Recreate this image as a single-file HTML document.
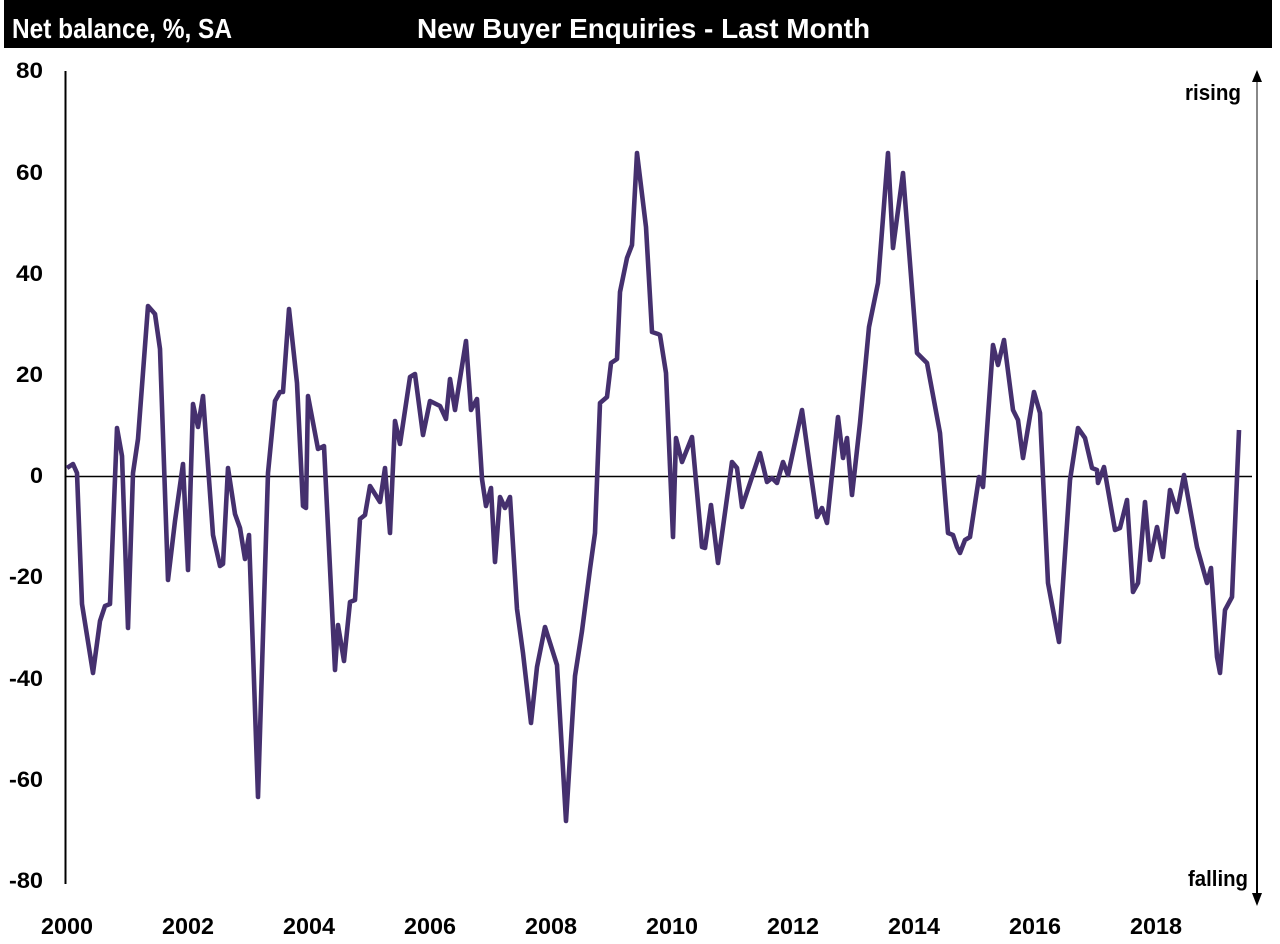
<!DOCTYPE html>
<html><head><meta charset="utf-8"><style>
html,body{margin:0;padding:0;background:#fff;}
svg{display:block;}
text{font-family:"Liberation Sans Narrow","Liberation Sans",sans-serif;font-weight:bold;}
</style></head><body>
<svg width="1280" height="944" viewBox="0 0 1280 944" xmlns="http://www.w3.org/2000/svg">
<rect x="4" y="0" width="1268" height="48" fill="#000"/>
<text x="12" y="38" font-size="28" fill="#fff" textLength="220" lengthAdjust="spacingAndGlyphs">Net balance, %, SA</text>
<text x="417" y="38" font-size="28" fill="#fff" textLength="453" lengthAdjust="spacingAndGlyphs">New Buyer Enquiries - Last Month</text>
<line x1="65.5" y1="71" x2="65.5" y2="884" stroke="#000" stroke-width="2"/>
<line x1="65" y1="476.5" x2="1252" y2="476.5" stroke="#000" stroke-width="1.5"/>
<g font-size="22" fill="#000" text-anchor="end">
<text x="43" y="78" textLength="27" lengthAdjust="spacingAndGlyphs">80</text>
<text x="43" y="180" textLength="27" lengthAdjust="spacingAndGlyphs">60</text>
<text x="43" y="281" textLength="27" lengthAdjust="spacingAndGlyphs">40</text>
<text x="43" y="382" textLength="27" lengthAdjust="spacingAndGlyphs">20</text>
<text x="43" y="483" textLength="13" lengthAdjust="spacingAndGlyphs">0</text>
<text x="43" y="584" textLength="34" lengthAdjust="spacingAndGlyphs">-20</text>
<text x="43" y="686" textLength="34" lengthAdjust="spacingAndGlyphs">-40</text>
<text x="43" y="787" textLength="34" lengthAdjust="spacingAndGlyphs">-60</text>
<text x="43" y="888" textLength="34" lengthAdjust="spacingAndGlyphs">-80</text>
</g>
<g font-size="23" fill="#000" text-anchor="middle">
<text x="67" y="934" textLength="52" lengthAdjust="spacingAndGlyphs">2000</text>
<text x="188" y="934" textLength="52" lengthAdjust="spacingAndGlyphs">2002</text>
<text x="309" y="934" textLength="52" lengthAdjust="spacingAndGlyphs">2004</text>
<text x="430" y="934" textLength="52" lengthAdjust="spacingAndGlyphs">2006</text>
<text x="551" y="934" textLength="52" lengthAdjust="spacingAndGlyphs">2008</text>
<text x="672" y="934" textLength="52" lengthAdjust="spacingAndGlyphs">2010</text>
<text x="793" y="934" textLength="52" lengthAdjust="spacingAndGlyphs">2012</text>
<text x="914" y="934" textLength="52" lengthAdjust="spacingAndGlyphs">2014</text>
<text x="1035" y="934" textLength="52" lengthAdjust="spacingAndGlyphs">2016</text>
<text x="1156" y="934" textLength="52" lengthAdjust="spacingAndGlyphs">2018</text>
</g>
<line x1="1257" y1="80" x2="1257" y2="280" stroke="#888" stroke-width="2"/>
<line x1="1257" y1="280" x2="1257" y2="897" stroke="#000" stroke-width="2"/>
<polygon points="1252,82 1262,82 1257,70" fill="#000"/>
<polygon points="1252,893 1262,893 1257,906" fill="#000"/>
<text x="1185" y="100" font-size="22" fill="#000" textLength="56" lengthAdjust="spacingAndGlyphs">rising</text>
<text x="1188" y="886" font-size="22" fill="#000" textLength="60" lengthAdjust="spacingAndGlyphs">falling</text>
<polyline fill="none" stroke="#45306e" stroke-width="4.6" stroke-linejoin="round" points="
67,468 73,464 77,473 82,604 93,673 100,621 105,606 110,604 117,428 122,456 128,628 133,473 138,439 148,306 155,314 160,349 168,580 175,521 183,464 188,570 193,404 198,427 203,396 213,535 220,566 223,564 228,468 235,514 240,528 245,559 249,535 258,797 268,473 275,401 280,392 283,392 289,309 297,383 303,506 306,508 308,396 318,449 324,446 335,670 338,625 344,661 350,602 355,600 360,519 365,515 370,486 380,502 385,468 390,533 395,421 400,444 410,377 415,374 423,435 430,401 440,406 446,419 450,379 455,410 466,341 471,410 477,399 482,479 486,506 491,488 495,562 500,497 505,508 510,497 517,609 523,653 531,723 537,667 545,627 557,665 566,821 575,676 582,631 590,569 595,533 600,403 607,397 611,363 617,359 620,292 627,258 632,245 637,153 646,227 652,332 658,334 660,335 666,373 673,537 676,438 682,462 692,437 702,547 705,548 711,505 718,563 732,462 737,468 742,507 760,453 767,482 772,478 777,483 783,462 788,475 802,410 810,468 817,517 822,508 827,523 838,417 843,458 847,438 852,495 860,423 869,327 878,283 888,153 893,248 903,173 917,353 927,363 940,433 948,533 953,535 957,547 960,553 965,540 970,537 979,477 983,487 993,345 998,365 1004,340 1013,410 1018,420 1023,458 1034,392 1040,413 1048,583 1059,642 1070,480 1078,428 1085,438 1092,468 1097,470 1098,483 1104,467 1115,530 1120,528 1127,500 1133,592 1138,583 1145,502 1150,560 1157,527 1163,557 1170,490 1177,512 1184,475 1197,547 1207,583 1211,568 1217,657 1220,673 1225,610 1232,597 1239,430"/>
</svg>
</body></html>
